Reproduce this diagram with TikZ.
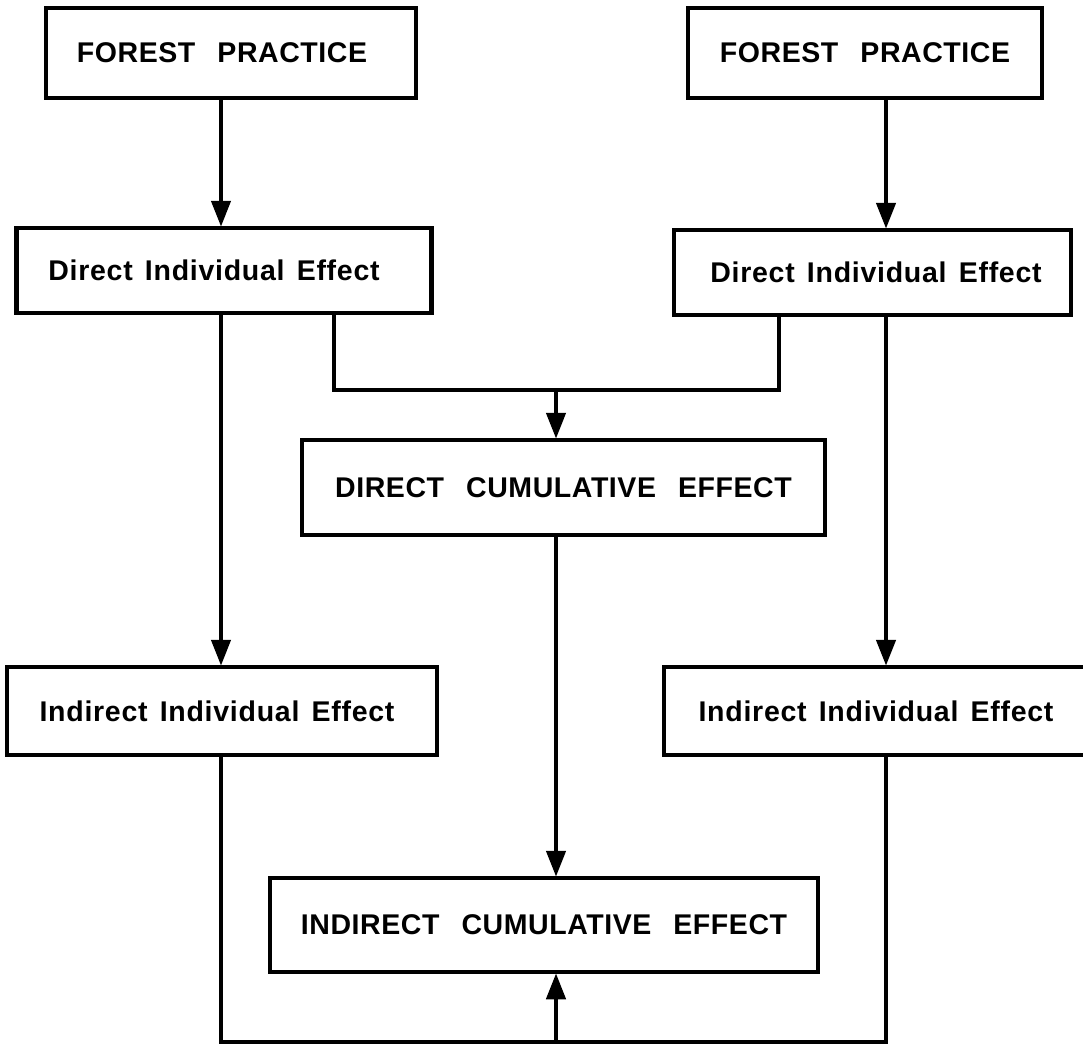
\documentclass[tikz,border=0pt]{standalone}
\usepackage{fontspec}
\setmainfont{Liberation Sans}
\newfontfamily\capfont{Liberation Sans Bold}[LetterSpace=2.0,WordSpace=2.6]
\newfontfamily\lowfont{Liberation Sans Bold}[LetterSpace=2.6,WordSpace=1.4]
\usetikzlibrary{arrows.meta}
\tikzset{
  box/.style={draw=black, line width=4.5pt, fill=white, inner sep=0pt, align=center},
  capbox/.style={box, font=\capfont\fontsize{28.5}{32}\selectfont},
  lowbox/.style={box, font=\lowfont\fontsize{28.5}{32}\selectfont},
  conn/.style={draw=black, line width=4.5pt, line join=miter},
  arr/.style={conn, -{Triangle[length=26pt,width=19pt]}, shorten >=-1pt}
}
\begin{document}
\begin{tikzpicture}[x=1pt,y=-1pt]
\useasboundingbox (0,0) rectangle (1083,1046);
\fill[white] (0,0) rectangle (1083,1046);
\clip (0,0) rectangle (1083,1046);
% nodes
\node[capbox, minimum width=370pt, minimum height=90pt] (fp1) at (231,53) {FOREST PRACTICE\hspace*{18pt}};
\node[capbox, minimum width=354pt, minimum height=90pt] (fp2) at (865,53) {FOREST PRACTICE};
\node[lowbox, minimum width=415pt, minimum height=85pt] (die1) at (224,270.5) {Direct Individual Effect\hspace*{20pt}};
\node[lowbox, minimum width=397pt, minimum height=85pt] (die2) at (872.5,272.5) {\hspace*{7pt}Direct Individual Effect};
\node[capbox, minimum width=523pt, minimum height=95pt] (dce) at (563.5,487.5) {DIRECT CUMULATIVE EFFECT};
\node[lowbox, minimum width=430pt, minimum height=88pt] (iie1) at (222,711) {Indirect Individual Effect\hspace*{10pt}};
\node[lowbox, minimum width=431pt, minimum height=88pt] (iie2) at (879.5,711) {Indirect Individual Effect\hspace*{7pt}};
\node[capbox, minimum width=548pt, minimum height=94pt] (ice) at (544,925) {INDIRECT CUMULATIVE EFFECT};
% helper coordinates
\coordinate (cL) at (221,0);
\coordinate (cR) at (886,0);
\coordinate (cA) at (334,0);
\coordinate (cB) at (779,0);
\coordinate (jn) at (556,390);
\coordinate (bot) at (556,1042);
% connectors
\draw[arr] (fp1.south -| cL) -- (die1.north -| cL);
\draw[arr] (fp2.south -| cR) -- (die2.north -| cR);
\draw[arr] (die1.south -| cL) -- (iie1.north -| cL);
\draw[arr] (die2.south -| cR) -- (iie2.north -| cR);
\draw[conn] (die1.south -| cA) -- (cA |- jn) -- (cB |- jn) -- (die2.south -| cB);
\draw[arr] (jn) -- (dce.north -| jn);
\draw[arr] (dce.south -| jn) -- (ice.north -| jn);
\draw[conn] (iie1.south -| cL) -- (cL |- bot) -- (cR |- bot) -- (iie2.south -| cR);
\draw[arr] (bot) -- (ice.south -| bot);
\end{tikzpicture}
\end{document}
